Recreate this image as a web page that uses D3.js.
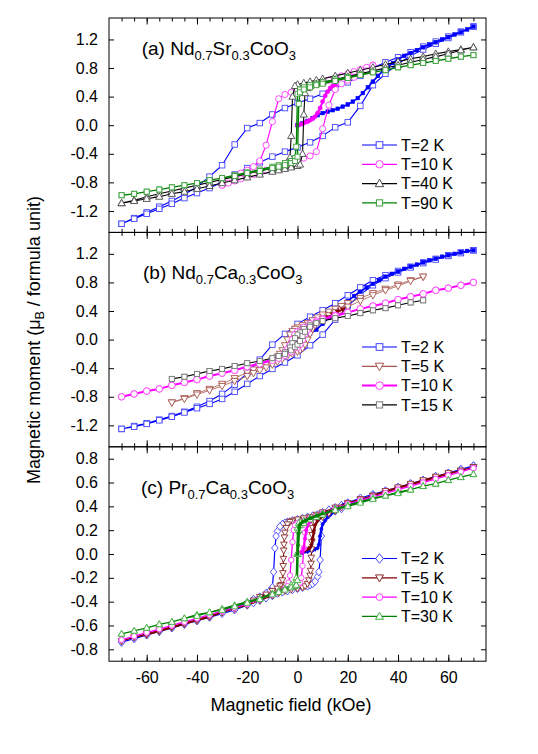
<!DOCTYPE html>
<html><head><meta charset="utf-8">
<script src="https://cdn.jsdelivr.net/npm/d3@7"></script>
<style>body{margin:0;background:#fff} svg{display:block} text{font-family:"Liberation Sans",Arial,sans-serif;fill:#000}</style>
</head><body><svg id="chart" width="538" height="754"></svg>
<script>
// ---------- axis values ----------
const xDomain = [-75, 75];
const xMinorTicks = [-70,-65,-60,-55,-50,-45,-40,-35,-30,-25,-20,-15,-10,-5,0,5,10,15,20,25,30,35,40,45,50,55,60,65,70];
const xMajorTicks = [-60,-40,-20,0,20,40,60];
const xTickLabels = ["-60","-40","-20","0","20","40","60"];
const yTicksAB = [1.2,0.8,0.4,0,-0.4,-0.8,-1.2];
const yLabelsAB = ["1.2","0.8","0.4","0.0","-0.4","-0.8","-1.2"];
const yTicksC = [0.8,0.6,0.4,0.2,0,-0.2,-0.4,-0.6,-0.8];
const yLabelsC = ["0.8","0.6","0.4","0.2","0.0","-0.2","-0.4","-0.6","-0.8"];
const legendA = ["T=2 K","T=10 K","T=40 K","T=90 K"];
const legendB = ["T=2 K","T=5 K","T=10 K","T=15 K"];
const legendC = ["T=2 K","T=5 K","T=10 K","T=30 K"];

// ---------- panel (a) Nd0.7Sr0.3CoO3 : [field kOe, moment] ----------
const a2Down = [[70,1.38],[65,1.31],[60,1.24],[55,1.17],[50,1.10],[45,1.02],[40,0.95],[35,0.88],[30,0.80],[25,0.69],[20,0.60],[15,0.52],[10,0.44],[5,0.37],[0,0.31],[-5,0.24],[-10,0.15],[-15,0.03],[-20,-0.04],[-25,-0.27],[-30,-0.56],[-35,-0.72],[-40,-0.86],[-45,-0.97],[-50,-1.06],[-55,-1.14],[-60,-1.22],[-65,-1.30],[-70,-1.38]];
const a2Up = [[-70,-1.38],[-65,-1.31],[-60,-1.24],[-55,-1.17],[-50,-1.10],[-45,-1.02],[-40,-0.95],[-35,-0.88],[-30,-0.80],[-25,-0.69],[-20,-0.60],[-15,-0.52],[-10,-0.44],[-5,-0.37],[0,-0.31],[5,-0.24],[10,-0.15],[15,-0.03],[20,0.04],[25,0.27],[30,0.56],[35,0.72],[40,0.86],[45,0.97],[50,1.06],[55,1.14],[60,1.22],[65,1.30],[70,1.38]];
const a2Virgin = [[0,0],[2,0.03],[4,0.06],[6,0.10],[8,0.14],[10,0.17],[12,0.19],[14,0.21],[16,0.23],[18,0.26],[20,0.29],[22,0.33],[24,0.38],[26,0.45],[28,0.53],[30,0.61],[32,0.69],[34,0.76],[36,0.82],[38,0.87],[40,0.92],[42.5,0.97],[45,1.01],[47.5,1.05],[50,1.09],[52.5,1.13],[55,1.16],[57.5,1.20],[60,1.23],[62.5,1.27],[65,1.30],[67.5,1.34],[70,1.38]];
const a10Down = [[30,0.84],[27.5,0.81],[25,0.78],[22.5,0.75],[20,0.72],[17.5,0.69],[15,0.66],[12.5,0.63],[10,0.61],[7.5,0.58],[5,0.56],[2.5,0.52],[0,0.49],[-2.5,0.46],[-5,0.43],[-7.5,0.37],[-10,0.05],[-12.5,-0.28],[-15,-0.50],[-17.5,-0.58],[-20,-0.63],[-22.5,-0.67],[-25,-0.71],[-27.5,-0.76],[-30,-0.84]];
const a10Up = [[-30,-0.84],[-27.5,-0.81],[-25,-0.78],[-22.5,-0.75],[-20,-0.72],[-17.5,-0.69],[-15,-0.66],[-12.5,-0.63],[-10,-0.61],[-7.5,-0.58],[-5,-0.56],[-2.5,-0.52],[0,-0.49],[2.5,-0.46],[5,-0.43],[7.5,-0.37],[10,-0.05],[12.5,0.28],[15,0.50],[17.5,0.58],[20,0.63],[22.5,0.67],[25,0.71],[27.5,0.76],[30,0.84]];
const a10Virgin = [[0,0],[1,0.01],[2,0.02],[3,0.04],[4,0.05],[5,0.07],[6,0.09],[7,0.12],[8,0.17],[9,0.24],[10,0.33],[11,0.41],[12,0.47],[13,0.52],[14,0.55],[15,0.57]];
const a40Down = [[70,1.09],[65,1.06],[60,1.03],[55,1.00],[50,0.96],[45,0.93],[40,0.89],[35,0.85],[30,0.81],[25,0.77],[20,0.73],[15,0.69],[10,0.65],[7.5,0.63],[5,0.61],[2.5,0.59],[0,0.57],[-1,0.55],[-2,0.40],[-2.5,-0.15],[-3,-0.45],[-4,-0.52],[-5,-0.55],[-7.5,-0.58],[-10,-0.60],[-15,-0.64],[-20,-0.68],[-25,-0.72],[-30,-0.76],[-35,-0.80],[-40,-0.84],[-45,-0.88],[-50,-0.92],[-55,-0.96],[-60,-1.00],[-65,-1.05],[-70,-1.09]];
const a40Up = [[-70,-1.09],[-65,-1.06],[-60,-1.03],[-55,-1.00],[-50,-0.96],[-45,-0.93],[-40,-0.89],[-35,-0.85],[-30,-0.81],[-25,-0.77],[-20,-0.73],[-15,-0.69],[-10,-0.65],[-7.5,-0.63],[-5,-0.61],[-2.5,-0.59],[0,-0.57],[1,-0.55],[2,-0.40],[2.5,0.15],[3,0.45],[4,0.52],[5,0.55],[7.5,0.58],[10,0.60],[15,0.64],[20,0.68],[25,0.72],[30,0.76],[35,0.80],[40,0.84],[45,0.88],[50,0.92],[55,0.96],[60,1.00],[65,1.05],[70,1.09]];
const a90Down = [[70,0.98],[65,0.96],[60,0.93],[55,0.90],[50,0.87],[45,0.84],[40,0.81],[35,0.77],[30,0.74],[25,0.71],[20,0.67],[15,0.64],[10,0.60],[7.5,0.58],[5,0.56],[2.5,0.53],[1,0.50],[0,0.44],[-0.5,-0.30],[-1,-0.46],[-2.5,-0.50],[-5,-0.53],[-7.5,-0.56],[-10,-0.58],[-15,-0.62],[-20,-0.66],[-25,-0.70],[-30,-0.74],[-35,-0.77],[-40,-0.81],[-45,-0.84],[-50,-0.87],[-55,-0.90],[-60,-0.93],[-65,-0.96],[-70,-0.98]];
const a90Up = [[-70,-0.98],[-65,-0.96],[-60,-0.93],[-55,-0.90],[-50,-0.87],[-45,-0.84],[-40,-0.81],[-35,-0.77],[-30,-0.74],[-25,-0.71],[-20,-0.67],[-15,-0.64],[-10,-0.60],[-7.5,-0.58],[-5,-0.56],[-2.5,-0.53],[-1,-0.50],[0,-0.44],[0.5,0.30],[1,0.46],[2.5,0.50],[5,0.53],[7.5,0.56],[10,0.58],[15,0.62],[20,0.66],[25,0.70],[30,0.74],[35,0.77],[40,0.81],[45,0.84],[50,0.87],[55,0.90],[60,0.93],[65,0.96],[70,0.98]];

// ---------- panel (b) Nd0.7Ca0.3CoO3 ----------
const b2Down = [[70,1.25],[65,1.22],[60,1.18],[55,1.13],[50,1.08],[45,1.02],[40,0.96],[35,0.90],[30,0.83],[25,0.73],[20,0.62],[15,0.51],[10,0.41],[5,0.32],[0,0.22],[-5,0.08],[-10,-0.07],[-15,-0.28],[-20,-0.47],[-25,-0.63],[-30,-0.76],[-35,-0.86],[-40,-0.94],[-45,-1.01],[-50,-1.07],[-55,-1.12],[-60,-1.17],[-65,-1.21],[-70,-1.25]];
const b2Up = [[-70,-1.25],[-65,-1.22],[-60,-1.18],[-55,-1.13],[-50,-1.08],[-45,-1.02],[-40,-0.96],[-35,-0.90],[-30,-0.83],[-25,-0.73],[-20,-0.62],[-15,-0.51],[-10,-0.41],[-5,-0.32],[0,-0.22],[5,-0.08],[10,0.07],[15,0.28],[20,0.47],[25,0.63],[30,0.76],[35,0.86],[40,0.94],[45,1.01],[50,1.07],[55,1.12],[60,1.17],[65,1.21],[70,1.25]];
const b2Virgin = [[0,0],[2.5,0.03],[5,0.08],[7.5,0.14],[10,0.22],[12.5,0.31],[15,0.39],[17.5,0.47],[20,0.54],[22.5,0.61],[25,0.67],[27.5,0.73],[30,0.78],[32.5,0.83],[35,0.88],[37.5,0.92],[40,0.95],[42.5,0.99],[45,1.02],[47.5,1.05],[50,1.08],[52.5,1.11],[55,1.13],[57.5,1.16],[60,1.18],[62.5,1.20],[65,1.22],[67.5,1.24],[70,1.25]];
const b5Down = [[50,0.88],[45,0.83],[40,0.77],[35,0.71],[30,0.65],[25,0.58],[20,0.51],[17.5,0.47],[15,0.43],[12.5,0.39],[10,0.35],[8,0.31],[6,0.27],[4,0.23],[2,0.20],[0,0.17],[-1,0.15],[-2,0.12],[-3,0.07],[-4,0.0],[-5,-0.08],[-6,-0.15],[-7,-0.20],[-8,-0.24],[-10,-0.29],[-12.5,-0.34],[-15,-0.38],[-17.5,-0.42],[-20,-0.46],[-25,-0.54],[-30,-0.62],[-35,-0.69],[-40,-0.75],[-45,-0.82],[-50,-0.88]];
const b5Up = [[-50,-0.88],[-45,-0.83],[-40,-0.77],[-35,-0.71],[-30,-0.65],[-25,-0.58],[-20,-0.51],[-17.5,-0.47],[-15,-0.43],[-12.5,-0.39],[-10,-0.35],[-8,-0.31],[-6,-0.27],[-4,-0.23],[-2,-0.20],[0,-0.17],[1,-0.15],[2,-0.12],[3,-0.07],[4,0.0],[5,0.08],[6,0.15],[7,0.20],[8,0.24],[10,0.29],[12.5,0.34],[15,0.38],[17.5,0.42],[20,0.46],[25,0.54],[30,0.62],[35,0.69],[40,0.75],[45,0.82],[50,0.88]];
const b5Virgin = [[0,0],[1,0.04],[2,0.08],[3,0.12],[4,0.15],[5,0.18],[6,0.20],[8,0.24],[10,0.28],[12,0.31],[14,0.35],[16,0.39],[18,0.42]];
const b10Down = [[70,0.80],[65,0.76],[60,0.72],[55,0.69],[50,0.64],[45,0.60],[40,0.56],[35,0.51],[30,0.47],[25,0.43],[20,0.38],[15,0.34],[10,0.29],[7.5,0.26],[5,0.22],[2.5,0.17],[0,0.11],[-1,0.07],[-2,0.0],[-3,-0.08],[-4,-0.14],[-5,-0.18],[-7.5,-0.24],[-10,-0.28],[-15,-0.33],[-20,-0.38],[-25,-0.43],[-30,-0.47],[-35,-0.51],[-40,-0.56],[-45,-0.60],[-50,-0.64],[-55,-0.69],[-60,-0.72],[-65,-0.76],[-70,-0.80]];
const b10Up = [[-70,-0.80],[-65,-0.76],[-60,-0.72],[-55,-0.69],[-50,-0.64],[-45,-0.60],[-40,-0.56],[-35,-0.51],[-30,-0.47],[-25,-0.43],[-20,-0.38],[-15,-0.34],[-10,-0.29],[-7.5,-0.26],[-5,-0.22],[-2.5,-0.17],[0,-0.11],[1,-0.07],[2,0.0],[3,0.08],[4,0.14],[5,0.18],[7.5,0.24],[10,0.28],[15,0.33],[20,0.38],[25,0.43],[30,0.47],[35,0.51],[40,0.56],[45,0.60],[50,0.64],[55,0.69],[60,0.72],[65,0.76],[70,0.80]];
const b15Down = [[50,0.55],[45,0.52],[40,0.48],[35,0.44],[30,0.41],[25,0.37],[20,0.33],[15,0.30],[10,0.26],[7.5,0.23],[5,0.20],[2.5,0.15],[1,0.10],[0,0.07],[-1,0.02],[-2,-0.05],[-3,-0.11],[-5,-0.18],[-7.5,-0.23],[-10,-0.26],[-15,-0.30],[-20,-0.33],[-25,-0.37],[-30,-0.41],[-35,-0.44],[-40,-0.48],[-45,-0.52],[-50,-0.55]];
const b15Up = [[-50,-0.55],[-45,-0.52],[-40,-0.48],[-35,-0.44],[-30,-0.41],[-25,-0.37],[-20,-0.33],[-15,-0.30],[-10,-0.26],[-7.5,-0.23],[-5,-0.20],[-2.5,-0.15],[-1,-0.10],[0,-0.07],[1,-0.02],[2,0.05],[3,0.11],[5,0.18],[7.5,0.23],[10,0.26],[15,0.30],[20,0.33],[25,0.37],[30,0.41],[35,0.44],[40,0.48],[45,0.52],[50,0.55]];

// ---------- panel (c) Pr0.7Ca0.3CoO3 ----------
const c2Down = [[70,0.74],[65,0.71],[60,0.68],[55,0.65],[50,0.62],[45,0.59],[40,0.56],[35,0.53],[30,0.50],[25,0.47],[20,0.43],[17.5,0.41],[15,0.39],[12.5,0.37],[10,0.35],[8,0.33],[6,0.32],[4,0.31],[2,0.30],[0,0.29],[-2,0.28],[-4,0.27],[-5,0.26],[-6,0.25],[-7,0.23],[-8,0.19],[-8.5,0.15],[-9,0.05],[-9.5,-0.15],[-10,-0.28],[-11,-0.31],[-12.5,-0.33],[-15,-0.36],[-17.5,-0.38],[-20,-0.41],[-25,-0.45],[-30,-0.49],[-35,-0.53],[-40,-0.56],[-45,-0.59],[-50,-0.62],[-55,-0.65],[-60,-0.68],[-65,-0.71],[-70,-0.74]];
const c2Up = [[-70,-0.74],[-65,-0.71],[-60,-0.68],[-55,-0.65],[-50,-0.62],[-45,-0.59],[-40,-0.56],[-35,-0.53],[-30,-0.50],[-25,-0.47],[-20,-0.43],[-17.5,-0.41],[-15,-0.39],[-12.5,-0.37],[-10,-0.35],[-8,-0.33],[-6,-0.32],[-4,-0.31],[-2,-0.30],[0,-0.29],[2,-0.28],[4,-0.27],[5,-0.26],[6,-0.25],[7,-0.23],[8,-0.19],[8.5,-0.15],[9,-0.05],[9.5,0.15],[10,0.28],[11,0.31],[12.5,0.33],[15,0.36],[17.5,0.38],[20,0.41],[25,0.45],[30,0.49],[35,0.53],[40,0.56],[45,0.59],[50,0.62],[55,0.65],[60,0.68],[65,0.71],[70,0.74]];
const c2Virgin = [[0,0],[2,0.01],[4,0.02],[6,0.03],[7,0.04],[8,0.05],[8.5,0.08],[9,0.15],[9.5,0.21],[10,0.25],[11,0.28],[12,0.31],[13,0.33],[14,0.35],[16,0.38],[18,0.41],[20,0.43]];
const c5Down = [[70,0.73],[65,0.70],[60,0.67],[55,0.64],[50,0.61],[45,0.58],[40,0.55],[35,0.52],[30,0.49],[25,0.46],[20,0.43],[15,0.39],[10,0.35],[7.5,0.33],[5,0.31],[2.5,0.30],[0,0.29],[-2,0.28],[-3,0.27],[-4,0.25],[-4.5,0.22],[-5,0.18],[-5.2,0.14],[-5.4,0.08],[-5.5,0.03],[-5.6,-0.04],[-5.7,-0.10],[-5.8,-0.16],[-6,-0.22],[-6.5,-0.26],[-7,-0.27],[-8,-0.29],[-10,-0.31],[-12.5,-0.34],[-15,-0.36],[-17.5,-0.39],[-20,-0.42],[-25,-0.46],[-30,-0.49],[-35,-0.53],[-40,-0.56],[-45,-0.59],[-50,-0.62],[-55,-0.65],[-60,-0.68],[-65,-0.70],[-70,-0.73]];
const c5Up = [[-70,-0.73],[-65,-0.70],[-60,-0.67],[-55,-0.64],[-50,-0.61],[-45,-0.58],[-40,-0.55],[-35,-0.52],[-30,-0.49],[-25,-0.46],[-20,-0.43],[-15,-0.39],[-10,-0.35],[-7.5,-0.33],[-5,-0.31],[-2.5,-0.30],[0,-0.29],[2,-0.28],[3,-0.27],[4,-0.25],[4.5,-0.22],[5,-0.18],[5.2,-0.14],[5.4,-0.08],[5.5,-0.03],[5.6,0.04],[5.7,0.10],[5.8,0.16],[6,0.22],[6.5,0.26],[7,0.27],[8,0.29],[10,0.31],[12.5,0.34],[15,0.36],[17.5,0.39],[20,0.42],[25,0.46],[30,0.49],[35,0.53],[40,0.56],[45,0.59],[50,0.62],[55,0.65],[60,0.68],[65,0.70],[70,0.73]];
const c5Virgin = [[0,0],[1,0.01],[2,0.02],[3,0.03],[4,0.04],[5,0.05],[5.5,0.07],[6,0.12],[6.5,0.19],[7,0.24],[8,0.28],[10,0.32],[12,0.35],[15,0.38]];
const c10Down = [[70,0.72],[65,0.69],[60,0.66],[55,0.63],[50,0.60],[45,0.57],[40,0.54],[35,0.51],[30,0.48],[25,0.45],[20,0.42],[15,0.38],[10,0.34],[7.5,0.32],[5,0.30],[2.5,0.28],[1,0.27],[0,0.26],[-1,0.24],[-1.5,0.20],[-2,0.10],[-2.5,-0.05],[-3,-0.18],[-3.5,-0.24],[-4,-0.27],[-5,-0.29],[-7.5,-0.32],[-10,-0.34],[-15,-0.38],[-20,-0.42],[-25,-0.45],[-30,-0.48],[-35,-0.51],[-40,-0.54],[-45,-0.57],[-50,-0.60],[-55,-0.63],[-60,-0.66],[-65,-0.69],[-70,-0.72]];
const c10Up = [[-70,-0.72],[-65,-0.69],[-60,-0.66],[-55,-0.63],[-50,-0.60],[-45,-0.57],[-40,-0.54],[-35,-0.51],[-30,-0.48],[-25,-0.45],[-20,-0.42],[-15,-0.38],[-10,-0.34],[-7.5,-0.32],[-5,-0.30],[-2.5,-0.28],[-1,-0.27],[0,-0.26],[1,-0.24],[1.5,-0.20],[2,-0.10],[2.5,0.05],[3,0.18],[3.5,0.24],[4,0.27],[5,0.29],[7.5,0.32],[10,0.34],[15,0.38],[20,0.42],[25,0.45],[30,0.48],[35,0.51],[40,0.54],[45,0.57],[50,0.60],[55,0.63],[60,0.66],[65,0.69],[70,0.72]];
const c10Virgin = [[0,0],[1,0.01],[2,0.02],[2.5,0.05],[3,0.13],[3.5,0.20],[4,0.24],[5,0.27],[7,0.30],[10,0.33],[15,0.38]];
const c30Down = [[70,0.67],[65,0.645],[60,0.62],[55,0.59],[50,0.57],[45,0.54],[40,0.52],[35,0.49],[30,0.47],[25,0.44],[20,0.41],[15,0.38],[10,0.34],[7.5,0.32],[5,0.30],[2.5,0.28],[1,0.27],[0.5,0.26],[0,0.22],[-0.25,0.0],[-0.5,-0.20],[-1,-0.24],[-2.5,-0.26],[-5,-0.29],[-7.5,-0.31],[-10,-0.33],[-15,-0.37],[-20,-0.40],[-25,-0.43],[-30,-0.46],[-35,-0.49],[-40,-0.51],[-45,-0.54],[-50,-0.57],[-55,-0.59],[-60,-0.62],[-65,-0.645],[-70,-0.67]];
const c30Up = [[-70,-0.67],[-65,-0.645],[-60,-0.62],[-55,-0.59],[-50,-0.57],[-45,-0.54],[-40,-0.52],[-35,-0.49],[-30,-0.47],[-25,-0.44],[-20,-0.41],[-15,-0.38],[-10,-0.34],[-7.5,-0.32],[-5,-0.30],[-2.5,-0.28],[-1,-0.27],[-0.5,-0.26],[0,-0.22],[0.25,0.0],[0.5,0.20],[1,0.24],[2.5,0.26],[5,0.29],[7.5,0.31],[10,0.33],[15,0.37],[20,0.40],[25,0.43],[30,0.46],[35,0.49],[40,0.51],[45,0.54],[50,0.57],[55,0.59],[60,0.62],[65,0.645],[70,0.67]];
const c30Virgin = [[0,0],[0.25,0.08],[0.5,0.18],[0.75,0.23],[1,0.25],[2,0.27],[3,0.28],[5,0.30],[7.5,0.32],[10,0.34]];

// ---------- layout & styles ----------
const plotLeft = 109, plotRight = 486, panelH = 214.4;
const panelTops = [18, 18 + panelH, 18 + 2 * panelH];
const fontFam = '"Liberation Sans", Arial, sans-serif';

const panels = [
  { title: [["(a) Nd",0],["0.7",1],["Sr",0],["0.3",1],["CoO",0],["3",1]], tx: 141.7, ty: 55,
    yDomain: [-1.5, 1.5], yTicks: yTicksAB, yLabels: yLabelsAB, legend: legendA, legendY: 145,
    series: [
      { down: a2Down, up: a2Up, virgin: a2Virgin, line: "#0000ff", mark: "#4646ff", shape: "square", size: 5.5, lw: 1.1, vlw: 1.6, vsize: 3.6 },
      { down: a10Down, up: a10Up, virgin: a10Virgin, line: "#ff00ff", mark: "#ff3cff", shape: "circle", size: 6.2, lw: 1.1, vlw: 2, vsize: 4.2 },
      { down: a40Down, up: a40Up, line: "#000000", mark: "#4a4a4a", shape: "tri", size: 6.5, lw: 1.1 },
      { down: a90Down, up: a90Up, line: "#008000", mark: "#3a9f3a", shape: "square", size: 5, lw: 1.3 }
    ] },
  { title: [["(b) Nd",0],["0.7",1],["Ca",0],["0.3",1],["CoO",0],["3",1]], tx: 143, ty: 278.5,
    yDomain: [-1.5, 1.5], yTicks: yTicksAB, yLabels: yLabelsAB, legend: legendB, legendY: 347,
    series: [
      { down: b2Down, up: b2Up, virgin: b2Virgin, line: "#0000ff", mark: "#4646ff", shape: "square", size: 5.5, lw: 1.1, vlw: 1.6, vsize: 3.6 },
      { down: b5Down, up: b5Up, virgin: b5Virgin, line: "#a8574f", mark: "#a8574f", vline: "#8b0000", shape: "dtri", size: 6.5, lw: 0.8, vlw: 1.4, vsize: 4.5 },
      { down: b10Down, up: b10Up, line: "#ff00ff", mark: "#ff3cff", shape: "circle", size: 6.5, lw: 2 },
      { down: b15Down, up: b15Up, line: "#000000", mark: "#7a7a7a", shape: "square", size: 5, lw: 1.1 }
    ] },
  { title: [["(c) Pr",0],["0.7",1],["Ca",0],["0.3",1],["CoO",0],["3",1]], tx: 141, ty: 493.5,
    yDomain: [-0.9, 0.9], yTicks: yTicksC, yLabels: yLabelsC, legend: legendC, legendY: 558.5,
    series: [
      { down: c2Down, up: c2Up, virgin: c2Virgin, line: "#0000ff", mark: "#4646ff", shape: "diamond", size: 6.5, lw: 1.2, vlw: 2.4, vsize: 3.5 },
      { down: c5Down, up: c5Up, virgin: c5Virgin, line: "#800000", mark: "#8a2a2a", shape: "dtri", size: 6, lw: 1.2, vlw: 2.4, vsize: 3.5 },
      { down: c10Down, up: c10Up, virgin: c10Virgin, line: "#ff00ff", mark: "#ff3cff", shape: "circle", size: 5.5, lw: 1.3, vlw: 2.2, vsize: 3.5 },
      { down: c30Down, up: c30Up, virgin: c30Virgin, line: "#008000", mark: "#3fae3f", shape: "tri", size: 6, lw: 1.3, vlw: 2.6, vsize: 3.5 }
    ] }
];

const svg = d3.select("#chart");
const x = d3.scaleLinear().domain(xDomain).range([plotLeft, plotRight]);

function marker(g, shape, cx, cy, s, stroke, fill, sw) {
  let el;
  if (shape === "square") {
    el = g.append("rect").attr("x", cx - s / 2).attr("y", cy - s / 2).attr("width", s).attr("height", s);
  } else if (shape === "circle") {
    el = g.append("circle").attr("cx", cx).attr("cy", cy).attr("r", s / 2);
  } else if (shape === "tri") {
    el = g.append("path").attr("d", `M${cx},${cy - s * 0.58}L${cx + s * 0.55},${cy + s * 0.4}L${cx - s * 0.55},${cy + s * 0.4}Z`);
  } else if (shape === "dtri") {
    el = g.append("path").attr("d", `M${cx},${cy + s * 0.58}L${cx + s * 0.55},${cy - s * 0.4}L${cx - s * 0.55},${cy - s * 0.4}Z`);
  } else {
    el = g.append("path").attr("d", `M${cx},${cy - s * 0.62}L${cx + s * 0.5},${cy}L${cx},${cy + s * 0.62}L${cx - s * 0.5},${cy}Z`);
  }
  el.attr("fill", fill).attr("stroke", stroke).attr("stroke-width", sw);
}

panels.forEach((p, i) => {
  const top = panelTops[i], bottom = top + panelH;
  const y = d3.scaleLinear().domain(p.yDomain).range([bottom, top]);
  const g = svg.append("g");
  const line = d3.line().x(d => x(d[0])).y(d => y(d[1]));

  // series
  p.series.forEach(s => {
    const sg = g.append("g");
    sg.append("path").attr("d", line(s.down.concat(s.up))).attr("fill", "none")
      .attr("stroke", s.line).attr("stroke-width", s.lw).attr("stroke-linejoin", "round");
    s.down.concat(s.up).forEach(d => marker(sg, s.shape, x(d[0]), y(d[1]), s.size, s.mark, "#fff", 0.9));
    if (s.virgin) {
      const vc = s.vline || s.line;
      sg.append("path").attr("d", line(s.virgin)).attr("fill", "none")
        .attr("stroke", vc).attr("stroke-width", s.vlw).attr("stroke-linejoin", "round");
      s.virgin.forEach(d => marker(sg, s.shape, x(d[0]), y(d[1]), s.vsize, vc, vc, 0.6));
    }
  });

  // frame
  g.append("rect").attr("x", plotLeft).attr("y", top).attr("width", plotRight - plotLeft).attr("height", panelH)
    .attr("fill", "none").attr("stroke", "#000").attr("stroke-width", 1);

  // x ticks (inward, top and bottom)
  const addX = (axisFn, ty, vals, len) => {
    const ax = g.append("g").attr("transform", `translate(0,${ty})`)
      .call(axisFn(x).tickValues(vals).tickSize(len).tickFormat(""));
    ax.select(".domain").remove();
    ax.selectAll("line").attr("stroke", "#000");
  };
  addX(d3.axisBottom, bottom, xMinorTicks, -3.5);
  addX(d3.axisBottom, bottom, xMajorTicks, -6.5);
  addX(d3.axisTop, top, xMinorTicks, -3.5);
  addX(d3.axisTop, top, xMajorTicks, -6.5);

  // y ticks and labels
  const yl = g.append("g").attr("transform", `translate(${plotLeft},0)`)
    .call(d3.axisLeft(y).tickValues(p.yTicks).tickSize(-5).tickPadding(11).tickFormat((d, k) => p.yLabels[k]));
  yl.select(".domain").remove();
  yl.selectAll("line").attr("stroke", "#000");
  yl.selectAll("text").attr("font-size", 16).attr("font-family", fontFam).attr("fill", "#000");
  const yr = g.append("g").attr("transform", `translate(${plotRight},0)`)
    .call(d3.axisRight(y).tickValues(p.yTicks).tickSize(-5).tickFormat(""));
  yr.select(".domain").remove();
  yr.selectAll("line").attr("stroke", "#000");

  // bottom labels for last panel
  if (i === panels.length - 1) {
    const xb = g.append("g").attr("transform", `translate(0,${bottom})`)
      .call(d3.axisBottom(x).tickValues(xMajorTicks).tickSize(0).tickPadding(10).tickFormat((d, k) => xTickLabels[k]));
    xb.select(".domain").remove();
    xb.selectAll("text").attr("font-size", 16).attr("font-family", fontFam).attr("fill", "#000");
  }

  // title
  const t = g.append("text").attr("x", p.tx).attr("y", p.ty).attr("font-size", 19);
  let prevSub = false;
  p.title.forEach(([txt, sub]) => {
    const ts = t.append("tspan").text(txt);
    if (sub && !prevSub) ts.attr("dy", 5).attr("font-size", 13);
    else if (sub) ts.attr("font-size", 13);
    else if (!sub && prevSub) ts.attr("dy", -5);
    prevSub = !!sub;
  });

  // legend
  p.series.forEach((s, k) => {
    const ly = p.legendY + k * 19.3;
    g.append("line").attr("x1", 362).attr("x2", 397).attr("y1", ly).attr("y2", ly)
      .attr("stroke", s.line).attr("stroke-width", Math.max(s.lw, 1.2));
    marker(g, s.shape, 379.5, ly, s.size + 1.2, s.mark, "#fff", 1);
    g.append("text").attr("x", 401).attr("y", ly + 5.8).attr("font-size", 16).text(p.legend[k]);
  });
});

// axis titles
svg.append("text").attr("x", 291).attr("y", 711).attr("text-anchor", "middle").attr("font-size", 18)
  .text("Magnetic field (kOe)");
const yt = svg.append("text").attr("transform", "translate(40,340) rotate(-90)").attr("text-anchor", "middle").attr("font-size", 18);
yt.append("tspan").text("Magnetic moment (\u03bc");
yt.append("tspan").text("B").attr("font-size", 12.5).attr("dy", 4);
yt.append("tspan").text(" / formula unit)").attr("dy", -4);
</script>
</body></html>
